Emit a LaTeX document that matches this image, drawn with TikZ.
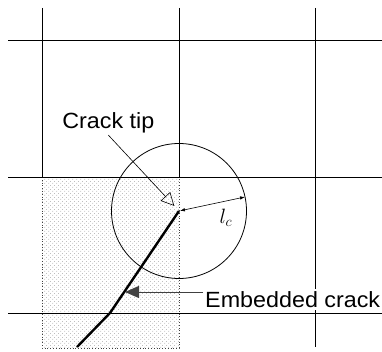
\documentclass[tikz,border=0pt]{standalone}
\usepackage{fontspec}
\setmainfont[FakeStretch=1.06]{Liberation Sans}
\usetikzlibrary{arrows.meta,patterns}
\pgfdeclarepatternformonly{sparsedots}{\pgfpointorigin}{\pgfqpoint{4pt}{4pt}}{\pgfqpoint{4pt}{4pt}}{
  \pgfpathcircle{\pgfqpoint{1pt}{1pt}}{0.5pt}
  \pgfpathcircle{\pgfqpoint{3pt}{3pt}}{0.5pt}
  \pgfusepath{fill}}
\begin{document}
\begin{tikzpicture}[x=1pt,y=-1pt,
  gridline/.style={line width=0.7pt},
  txt/.style={font=\fontsize{22}{26}\selectfont, inner sep=2pt}]
  \useasboundingbox (0,0) rectangle (382,352);
  % elemen yang berisi retak
  \fill[pattern=sparsedots, pattern color=gray!90] (42,177) rectangle (179,348);
  \draw[dotted, gray!50!black, line width=0.8pt] (42,177) rectangle (179,348);
  % garis grid
  \foreach \y in {40,177,313}
    \draw[gridline] (8,\y) -- (382,\y);
  \foreach \x in {42,179}
    \draw[gridline] (\x,8) -- (\x,177);
  \draw[gridline] (315,8) -- (315,347);
  % retak dan lingkaran
  \coordinate (tip) at (179,211);
  \coordinate (kink) at (110,313);
  \coordinate (crackend) at (77,347);
  \coordinate (rim) at ([shift={(12:67.5pt)}]tip);
  \coordinate (embpoint) at (125,292);
  \draw[line width=0.8pt] (tip) circle[radius=67.5pt];
  \draw[line width=2.4pt] (tip) -- (kink) -- (crackend);
  \draw[line width=0.6pt, {Latex[length=5pt,width=3.5pt]}-{Latex[length=5pt,width=3.5pt]}, shorten <=1pt] (tip) -- (rim);
  \node[font=\fontsize{21}{24}\selectfont] (lclabel) at (226,218) {$l_c$};
  % label
  \node[txt, anchor=base] (tiplabel) at (108.3,128.3) {Crack tip};
  \node[txt, fill=white, anchor=base west] (emblabel) at (203,307.3) {Embedded crack};
  \draw[line width=0.6pt, -{Triangle[open,length=13pt,width=13pt]}, shorten >=7pt] (tiplabel.south) -- (tip);
  \draw[line width=1pt, black!75, -{Triangle[length=14pt,width=12pt]}] (emblabel.west |- embpoint) -- (embpoint);
\end{tikzpicture}
\end{document}
